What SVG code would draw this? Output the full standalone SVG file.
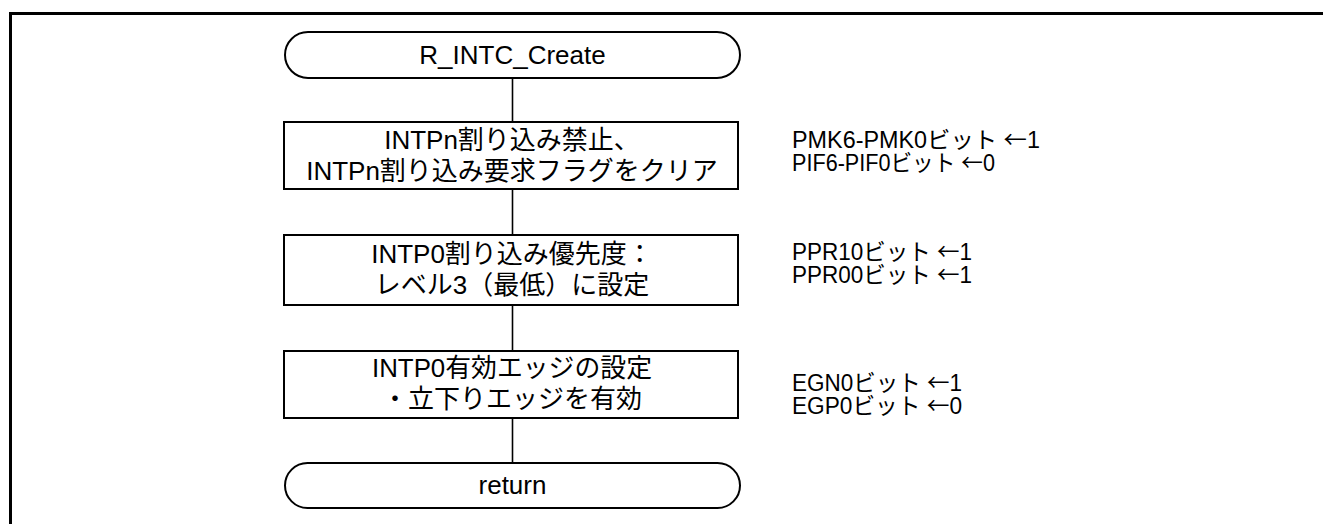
<svg xmlns="http://www.w3.org/2000/svg" width="1323" height="524" viewBox="0 0 1323 524">
<style>
.shape{fill:#fff;stroke:#000;stroke-width:2}
.conn{stroke:#000;stroke-width:1.6;fill:none}
text{font-family:"Liberation Sans","Noto Sans CJK JP",sans-serif;font-size:26px;fill:#000}
.c{text-anchor:middle}
.n{font-size:23px}
.ar{font-family:"Noto Sans CJK JP",sans-serif}
</style>
<rect width="1323" height="524" fill="#fff"/>
<path d="M10.5 524 V13.5 H1323" fill="none" stroke="#000" stroke-width="3"/>
<g id="connectors">
<line class="conn" x1="512.5" y1="78" x2="512.5" y2="122"/>
<line class="conn" x1="512.5" y1="189" x2="512.5" y2="235"/>
<line class="conn" x1="512.5" y1="305" x2="512.5" y2="351"/>
<line class="conn" x1="512.5" y1="418" x2="512.5" y2="463"/>
</g>
<g id="start">
<rect class="shape" x="285" y="32" width="455" height="46" rx="23" ry="23"/>
<text class="c" x="512.5" y="64">R_INTC_Create</text>
</g>
<g id="step1">
<rect class="shape" x="284" y="122" width="454" height="67"/>
<text class="c" x="512" y="149">INTPn割り込み禁止、</text>
<text class="c" x="512" y="180">INTPn割り込み要求フラグをクリア</text>
</g>
<g id="step2">
<rect class="shape" x="284" y="235" width="454" height="70"/>
<text class="c" x="512" y="263">INTP0割り込み優先度：</text>
<text class="c" x="512" y="294">レベル3（最低）に設定</text>
</g>
<g id="step3">
<rect class="shape" x="284" y="351" width="454" height="67"/>
<text class="c" x="512" y="377" textLength="280" lengthAdjust="spacingAndGlyphs">INTP0有効エッジの設定</text>
<text class="c" x="512" y="408">・立下りエッジを有効</text>
</g>
<g id="end">
<rect class="shape" x="285" y="463" width="455" height="45" rx="22.5" ry="22.5"/>
<text class="c" x="512.5" y="494">return</text>
</g>
<g id="notes">
<text class="n" x="792" y="148" textLength="248" lengthAdjust="spacingAndGlyphs">PMK6-PMK0ビット <tspan class="ar">←</tspan>1</text>
<text class="n" x="792" y="171" textLength="203" lengthAdjust="spacingAndGlyphs">PIF6-PIF0ビット <tspan class="ar">←</tspan>0</text>
<text class="n" x="792" y="260" textLength="180" lengthAdjust="spacingAndGlyphs">PPR10ビット <tspan class="ar">←</tspan>1</text>
<text class="n" x="792" y="283" textLength="180" lengthAdjust="spacingAndGlyphs">PPR00ビット <tspan class="ar">←</tspan>1</text>
<text class="n" x="792" y="391" textLength="170" lengthAdjust="spacingAndGlyphs">EGN0ビット <tspan class="ar">←</tspan>1</text>
<text class="n" x="792" y="414" textLength="170" lengthAdjust="spacingAndGlyphs">EGP0ビット <tspan class="ar">←</tspan>0</text>
</g>
</svg>
